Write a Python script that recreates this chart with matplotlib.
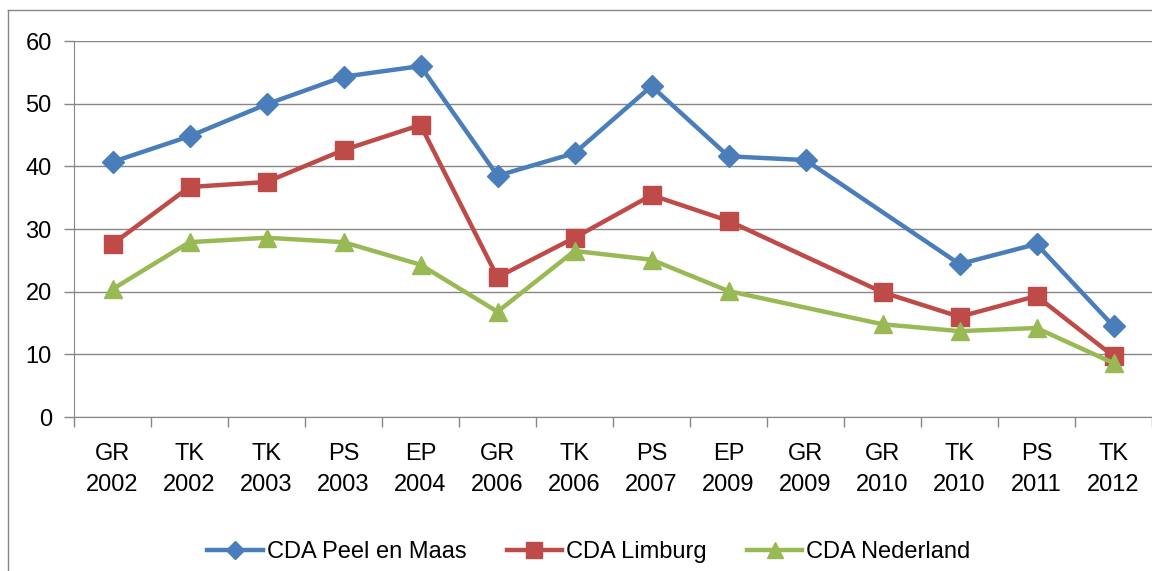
import numpy as np
import matplotlib
matplotlib.use("Agg")
import matplotlib.pyplot as plt
from matplotlib.lines import Line2D

plt.rcParams['font.family'] = ['Liberation Sans', 'DejaVu Sans']

categories = ["GR\n2002", "TK\n2002", "TK\n2003", "PS\n2003", "EP\n2004", "GR\n2006", "TK\n2006",
              "PS\n2007", "EP\n2009", "GR\n2009", "GR\n2010", "TK\n2010", "PS\n2011", "TK\n2012"]
peel_en_maas = [40.7, 44.8, 49.9, 54.3, 56.0, 38.5, 42.1, 52.8, 41.6, 41.0, None, 24.4, 27.6, 14.5]
limburg = [27.6, 36.7, 37.5, 42.6, 46.6, 22.3, 28.6, 35.4, 31.3, None, 19.9, 16.0, 19.3, 9.7]
nederland = [20.4, 27.9, 28.6, 27.9, 24.3, 16.8, 26.5, 25.1, 20.1, None, 14.8, 13.7, 14.2, 8.6]
series_names = ["CDA Peel en Maas", "CDA Limburg", "CDA Nederland"]

colors = ["#4A7EBB", "#BE4B48", "#98B954"]
markers = ["D", "s", "^"]
msizes = [11, 13, 13]
FS = 17

fig = plt.figure(figsize=(11.52, 5.71), dpi=100)
ax = fig.add_axes([74 / 1152, 1 - 417 / 571, (1152 - 74) / 1152, (417 - 41) / 571])

# outer chart frame (partially cropped)
fig.add_artist(Line2D([8 / 1152, 8 / 1152], [0, 1 - 10 / 571], transform=fig.transFigure,
                      color="#868686", lw=1))
fig.add_artist(Line2D([8 / 1152, 1], [1 - 10 / 571, 1 - 10 / 571], transform=fig.transFigure,
                      color="#868686", lw=1))

x = np.arange(len(categories))
for vals, name, c, m, ms in zip([peel_en_maas, limburg, nederland], series_names, colors, markers, msizes):
    xs = [i for i, v in zip(x, vals) if v is not None]
    ys = [v for v in vals if v is not None]
    ax.plot(xs, ys, color=c, lw=3.2, marker=m, markersize=ms, label=name, zorder=3, clip_on=False)

ax.set_ylim(0, 60)
ax.set_yticks(range(0, 61, 10))
ax.set_xlim(-0.5, len(categories) - 0.5)
ax.set_xticks(x)
ax.set_xticklabels(categories, linespacing=1.5)
ax.set_xticks(np.arange(-0.5, len(categories), 1), minor=True)
ax.tick_params(axis='x', which='major', length=0, pad=19, labelsize=FS)
ax.tick_params(axis='x', which='minor', length=7, color="#868686", width=1)
ax.tick_params(axis='y', length=7, color="#868686", width=1, labelsize=FS, pad=9)

ax.grid(axis='y', color="#868686", lw=1)
ax.set_axisbelow(True)
for s in ["top", "right"]:
    ax.spines[s].set_visible(False)
for s in ["left", "bottom"]:
    ax.spines[s].set_color("#868686")

ax.legend(loc="center", bbox_to_anchor=(589 / 1152, 1 - 552 / 571), bbox_transform=fig.transFigure,
          ncol=3, frameon=False, fontsize=FS, handlelength=2.35, columnspacing=1.7,
          handletextpad=0.17, borderpad=0, markerscale=0.85)

fig.savefig("out.png", dpi=100)
